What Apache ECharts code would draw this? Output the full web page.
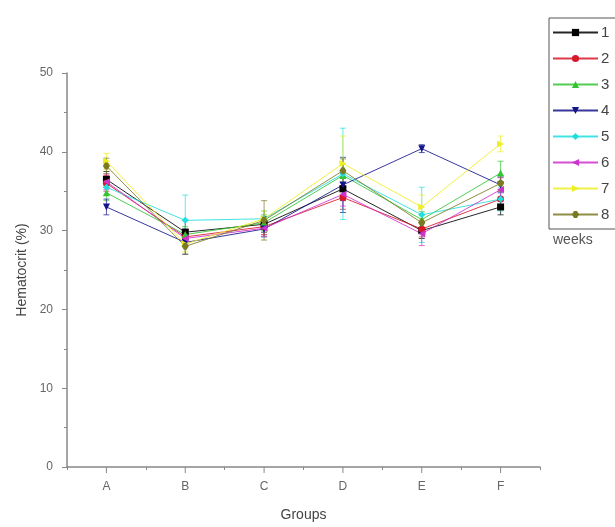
<!DOCTYPE html>
<html><head><meta charset="utf-8">
<script src="https://cdn.jsdelivr.net/npm/echarts@6/dist/echarts.min.js"></script>
<style>html,body{margin:0;padding:0;background:#fff}#c{width:615px;height:527px}</style>
</head><body><div id="c"></div>
<script>
const groups = ['A','B','C','D','E','F'];
const seriesNames = ['1','2','3','4','5','6','7','8'];
const yTicks = [0,10,20,30,40,50];
const w1 = [36.5, 29.8, 30.8, 35.3, 30.0, 33.0];
const w2 = [36.0, 29.2, 30.5, 34.2, 30.2, 34.0];
const w3 = [34.8, 29.5, 31.0, 37.0, 31.4, 37.3];
const w4 = [33.0, 28.5, 30.2, 35.8, 40.4, 35.8];
const w5 = [35.5, 31.3, 31.5, 37.2, 32.0, 34.0];
const w6 = [36.2, 29.0, 30.3, 34.6, 29.6, 35.2];
const w7 = [38.8, 28.3, 31.5, 38.5, 33.0, 41.0];
const w8 = [38.2, 28.0, 31.3, 37.6, 31.0, 36.0];
const e1 = [1.0, 1.5, 1.0, 1.5, 1.0, 1.0];
const e2 = [1.0, 1.0, 1.0, 1.5, 1.0, 1.0];
const e3 = [1.0, 1.0, 1.0, 1.5, 1.0, 1.5];
const e4 = [1.0, 1.5, 1.0, 3.5, 0.5, 1.0];
const e5 = [1.0, 3.2, 1.0, 5.8, 3.5, 1.5];
const e6 = [1.0, 1.0, 1.0, 1.5, 1.5, 1.5];
const e7 = [1.0, 1.0, 1.0, 3.5, 1.5, 1.0];
const e8 = [1.0, 1.0, 2.5, 1.5, 1.0, 1.0];

const values = [w1,w2,w3,w4,w5,w6,w7,w8];
const errors = [e1,e2,e3,e4,e5,e6,e7,e8];
const colors = ['#000000','#d8182a','#33c433','#14148c','#22dede','#cc33cc','#eeee22','#7a7a22'];
const symbols = [
  'rect','circle','triangle',
  'path://M0,0 L10,0 L5,10 Z',
  'diamond',
  'path://M0,5 L10,0 L10,10 Z',
  'path://M0,0 L10,5 L0,10 Z',
  'path://M3,0 L7,0 L10,5 L7,10 L3,10 L0,5 Z'
];

const series = [];
values.forEach((vals, i) => {
  series.push({
    type: 'line',
    name: seriesNames[i],
    xAxisIndex: 0,
    z: 3,
    data: vals,
    symbol: symbols[i],
    symbolSize: 7,
    showAllSymbol: true,
    color: colors[i],
    itemStyle: { color: colors[i] },
    lineStyle: { color: colors[i], width: 1, opacity: 0.85 }
  });
});
values.forEach((vals, i) => {
  const errData = vals.map((v, j) => [j, v - errors[i][j], v + errors[i][j]]);
  series.push({
    type: 'custom',
    name: 'err' + seriesNames[i],
    xAxisIndex: 0,
    z: 1,
    renderItem: function (params, api) {
      const x = api.value(0);
      const lo = api.coord([x, api.value(1)]);
      const hi = api.coord([x, api.value(2)]);
      const hw = 3;
      const st = { stroke: colors[i], lineWidth: 1, opacity: 0.7 };
      return { type: 'group', children: [
        { type: 'line', shape: { x1: lo[0], y1: lo[1], x2: hi[0], y2: hi[1] }, style: st },
        { type: 'line', shape: { x1: lo[0]-hw, y1: lo[1], x2: lo[0]+hw, y2: lo[1] }, style: st },
        { type: 'line', shape: { x1: hi[0]-hw, y1: hi[1], x2: hi[0]+hw, y2: hi[1] }, style: st }
      ]};
    },
    encode: { x: 0, y: [1, 2] },
    data: errData,
    silent: true
  });
});
// major x ticks under each category label
series.push({
  type: 'custom',
  name: 'xticks',
  xAxisIndex: 0,
  clip: false,
  silent: true,
  z: 5,
  renderItem: function (params, api) {
    const p = api.coord([api.value(0), yTicks[0]]);
    return { type: 'line', shape: { x1: p[0], y1: p[1], x2: p[0], y2: p[1] + 6 },
             style: { stroke: '#888', lineWidth: 1 } };
  },
  encode: { x: 0, y: 1 },
  data: groups.map((g, j) => [j, yTicks[0]])
});

const chart = echarts.init(document.getElementById('c'));
chart.setOption({
  animation: false,
  textStyle: { fontFamily: 'Liberation Sans, Arial, sans-serif' },
  grid: { left: 67, right: 75, top: 73, bottom: 59 },
  xAxis: [{
    type: 'category', data: groups, boundaryGap: true,
    name: 'Groups', nameLocation: 'middle', nameGap: 41,
    nameTextStyle: { fontSize: 14, color: '#444' },
    axisLine: { show: true, lineStyle: { color: '#888', width: 1.5 } },
    axisTick: { show: false },
    axisLabel: { color: '#666', fontSize: 12, margin: 14, interval: 0 },
    splitLine: { show: false }
  }, {
    type: 'value', min: 0, max: groups.length, interval: 1, position: 'bottom', gridIndex: 0,
    axisLine: { show: false },
    axisTick: { show: true, length: 3, lineStyle: { color: '#888' } },
    axisLabel: { show: false },
    splitLine: { show: false }
  }],
  yAxis: {
    type: 'value', min: yTicks[0], max: yTicks[yTicks.length-1], interval: 10,
    name: 'Hematocrit (%)', nameLocation: 'middle', nameGap: 36,
    nameTextStyle: { fontSize: 14, color: '#444' },
    axisLine: { show: true, lineStyle: { color: '#888', width: 1.5 } },
    axisTick: { show: true, length: 5, lineStyle: { color: '#888' } },
    minorTick: { show: true, splitNumber: 2, length: 3, lineStyle: { color: '#888' } },
    axisLabel: { color: '#666', fontSize: 12, margin: 14 },
    splitLine: { show: false }
  },
  legend: {
    orient: 'vertical', left: 549, top: 18,
    data: seriesNames,
    itemWidth: 45, itemHeight: 9, itemGap: 11,
    padding: [7, 16, 7, 3],
    borderColor: '#555', borderWidth: 1,
    textStyle: { fontSize: 15, color: '#444', padding: [0,0,0,-2] },
    selectedMode: false
  },
  graphic: [{
    type: 'text', left: 553, top: 233,
    style: { text: 'weeks', fontSize: 14, fill: '#555', fontFamily: 'Liberation Sans, Arial, sans-serif' }
  }],
  series: series
});
</script></body></html>
